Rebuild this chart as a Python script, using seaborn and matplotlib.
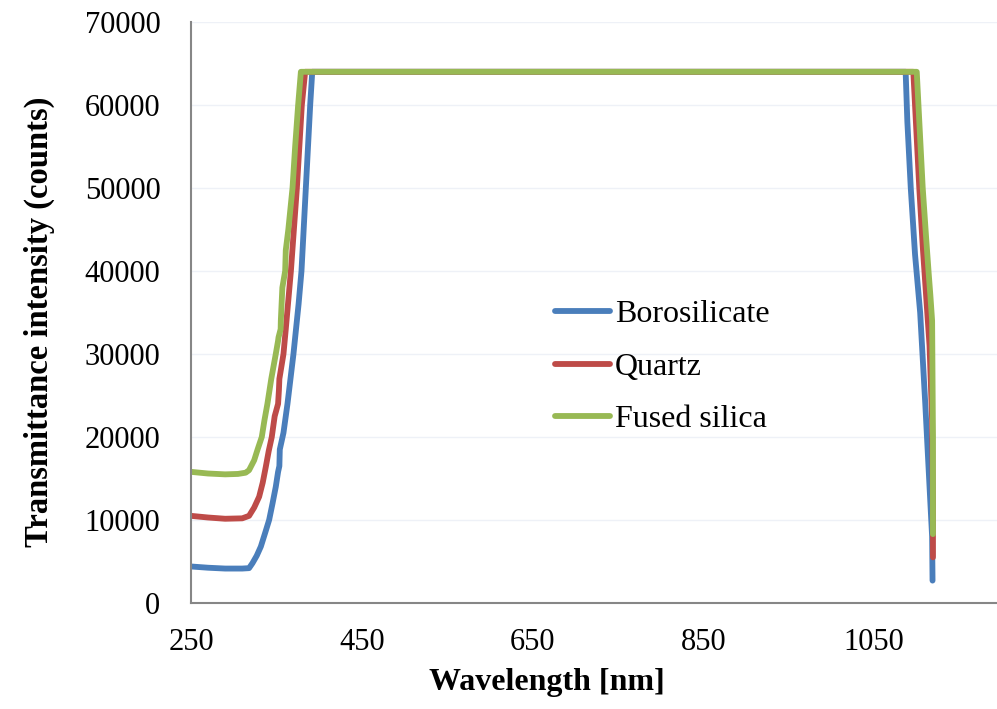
import matplotlib
matplotlib.use("Agg")
import matplotlib.pyplot as plt
import seaborn as sns
import pandas as pd

# Transmitted intensity of three glass types (spectrometer counts, saturates near 64000)
materials = ["Borosilicate", "Quartz", "Fused silica"]
colors = ["#4A7EBB", "#BE4B48", "#98B954"]

wl_boro = [250, 270, 290, 310, 318, 322, 327, 331.8, 337, 341.5, 345.5, 349.3, 352, 353.5, 354,
           358.3, 363, 370, 373, 376, 379.4, 384.5, 389.6, 392,
           1087, 1089, 1093, 1098, 1104, 1110, 1114, 1118, 1118.5]
cnt_boro = [4400, 4250, 4150, 4150, 4200, 4800, 5700, 6800, 8500, 10000, 12000, 14000, 15800, 16500, 18500,
            20500, 24000, 30000, 33000, 36000, 40000, 50000, 60000, 64000,
            64000, 58000, 50000, 42000, 35000, 24000, 16000, 8000, 2700]

wl_quartz = [250, 270, 290, 310, 318, 324, 329.8, 334, 337.6, 341, 344.6, 348, 352, 353, 353.5,
             358.3, 361, 364, 367, 374, 379.8, 383.7,
             1096, 1099, 1103, 1107, 1111, 1115, 1118, 1119, 1119]
cnt_quartz = [10500, 10300, 10150, 10200, 10500, 11500, 12800, 14500, 16400, 18300, 20000, 22500, 24000, 25700, 27000,
              30000, 33000, 36500, 40000, 50000, 60000, 64000,
              64000, 58000, 50000, 43000, 37000, 31000, 22000, 12000, 5500]

wl_fused = [250, 270, 290, 305, 314, 318, 324, 328, 332.9, 336, 339.5, 344, 349.3, 352, 352.5, 355, 355.2,
            357, 360.3, 361, 364, 368.9, 372, 375.5, 378.7,
            1100, 1103, 1107, 1111, 1114, 1116, 1118, 1119, 1119]
cnt_fused = [15800, 15600, 15500, 15550, 15700, 16000, 17200, 18500, 20000, 22000, 24000, 27000, 30000, 31600, 32000, 33000, 34000,
             38000, 40000, 42500, 45000, 50000, 55000, 60000, 64000,
             64000, 58000, 50000, 44000, 39700, 37000, 34000, 20000, 8300]

x_ticks = [250, 450, 650, 850, 1050]
y_ticks = [0, 10000, 20000, 30000, 40000, 50000, 60000, 70000]

frames = []
for name, wl, cnt in [("Borosilicate", wl_boro, cnt_boro),
                      ("Quartz", wl_quartz, cnt_quartz),
                      ("Fused silica", wl_fused, cnt_fused)]:
    frames.append(pd.DataFrame({"Wavelength": wl, "Counts": cnt, "Material": name}))
df = pd.concat(frames, ignore_index=True)

sns.set_theme(style="white")
plt.rcParams["font.family"] = ["Liberation Serif", "DejaVu Serif"]
plt.rcParams["text.color"] = "black"
plt.rcParams["axes.labelcolor"] = "black"

fig = plt.figure(figsize=(9.97, 7.09), dpi=100)
ax = fig.add_axes([191 / 997, 106 / 709, 806 / 997, 581 / 709])

sns.lineplot(data=df, x="Wavelength", y="Counts", hue="Material", hue_order=materials,
             palette=dict(zip(materials, colors)), sort=False, estimator=None,
             linewidth=4.2, ax=ax)
for line in ax.lines:
    line.set_solid_capstyle("round")
    line.set_solid_joinstyle("round")

ax.set_xlim(250, 1194)
ax.set_ylim(0, 70000)
ax.set_xticks(x_ticks)
ax.set_yticks(y_ticks)
ax.yaxis.grid(True, color="#EEF1F7", linewidth=1.0)
ax.xaxis.grid(False)
ax.set_axisbelow(True)

for side in ["top", "right"]:
    ax.spines[side].set_visible(False)
for side in ["left", "bottom"]:
    ax.spines[side].set_color("#868686")
    ax.spines[side].set_linewidth(1.5)
ax.tick_params(axis="both", which="major", direction="out", color="#868686", width=1.5,
               labelsize=22, labelcolor="black")
ax.tick_params(axis="y", length=7, pad=15)
ax.tick_params(axis="x", length=8, pad=10)

ax.set_xlabel("Wavelength [nm]", fontsize=23, fontweight="bold")
ax.set_ylabel("Transmittance intensity (counts)", fontsize=23.5, fontweight="bold")
ax.xaxis.set_label_coords(0.4417, -0.112)
ax.yaxis.set_label_coords(-0.169, 0.4845)

leg = ax.legend(loc="upper left", bbox_to_anchor=(555 / 997, 1 - 300 / 709),
                bbox_transform=fig.transFigure, frameon=False, fontsize=23,
                handlelength=1.72, handletextpad=0.16, labelspacing=0.72,
                borderpad=0, borderaxespad=0, title=None)
for h in leg.get_lines():
    h.set_linewidth(4.2)
    h.set_solid_capstyle("round")

fig.savefig("out.png", dpi=100)
